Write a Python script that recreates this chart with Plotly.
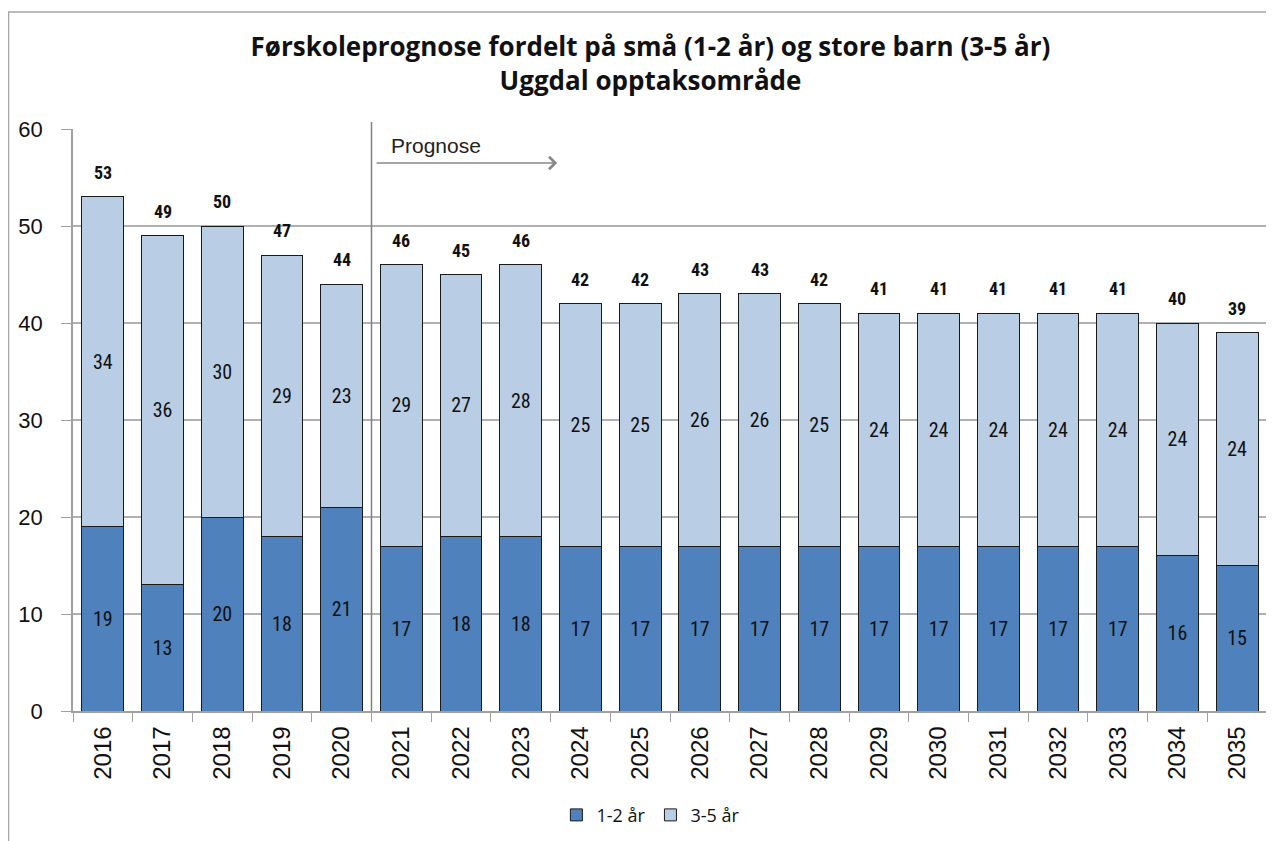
import plotly.graph_objects as go

years = [str(y) for y in range(2016, 2036)]
small = [19, 13, 20, 18, 21, 17, 18, 18, 17, 17, 17, 17, 17, 17, 17, 17, 17, 17, 16, 15]
large = [34, 36, 30, 29, 23, 29, 27, 28, 25, 25, 26, 26, 25, 24, 24, 24, 24, 24, 24, 24]
totals = [a + b for a, b in zip(small, large)]

narrow = "Liberation Sans Narrow, Arial Narrow, Roboto Condensed, DejaVu Sans Condensed, sans-serif"
arial = "Liberation Sans, Arial, sans-serif"

fig = go.Figure()
fig.add_trace(go.Bar(
    x=years, y=small, name="1-2 år",
    marker=dict(color="#4F81BD", line=dict(color="#1a1a1a", width=1)),
    text=small, textposition="inside", insidetextanchor="middle",
    textfont=dict(family=narrow, size=20, color="#111111"),
    textangle=0,
))
fig.add_trace(go.Bar(
    x=years, y=large, name="3-5 år",
    marker=dict(color="#B9CDE5", line=dict(color="#1a1a1a", width=1)),
    text=large, textposition="inside", insidetextanchor="middle",
    textfont=dict(family=narrow, size=20, color="#111111"),
    textangle=0,
))

for i, t in enumerate(totals):
    fig.add_annotation(x=i, y=t, xref="x", yref="y", text=f"<b>{t}</b>", showarrow=False,
                       yanchor="bottom", yshift=12,
                       font=dict(family=narrow, size=18, color="#111111"))

# Prognose divider line and arrow
fig.add_shape(type="line", xref="x", yref="paper", x0=4.5, x1=4.5, y0=0, y1=1.012,
              line=dict(color="#808080", width=1.5))
fig.add_annotation(x=7.61, y=56.5, ax=4.56, ay=56.5, xref="x", yref="y",
                   axref="x", ayref="y", showarrow=True, arrowhead=4,
                   arrowsize=1.6, arrowwidth=1.5, arrowcolor="#888888", text="")
fig.add_annotation(x=4.79, y=58.35, xref="x", yref="y", text="Prognose",
                   showarrow=False, xanchor="left", yanchor="middle",
                   font=dict(family=arial, size=21, color="#222222"))

# chart border
fig.add_shape(type="rect", xref="paper", yref="paper", x0=-0.054, x1=1.02,
              y0=-0.3, y1=1.201, line=dict(color="#A6A6A6", width=1.5),
              fillcolor="rgba(0,0,0,0)", layer="below")

fig.update_layout(
    barmode="stack", bargap=0.3,
    width=1266, height=833,
    paper_bgcolor="white", plot_bgcolor="white",
    margin=dict(l=65, r=7, t=121, b=130),
    title=dict(text="<b>Førskoleprognose fordelt på små (1-2 år) og store barn (3-5 år)<br>Uggdal opptaksområde</b>",
               x=0.5075, xanchor="center", y=0.9424, yanchor="middle",
               font=dict(family="Open Sans, sans-serif", size=26, color="#111111")),
    legend=dict(orientation="h", x=0.484, xanchor="center", y=-0.179, yanchor="middle",
                font=dict(family="Open Sans, sans-serif", size=18, color="#111111"),
                traceorder="normal"),
    uniformtext=dict(minsize=10, mode="show"),
)
fig.update_xaxes(type="category", range=[-0.5, len(years) - 0.5], autorange=False,
                 tickangle=-90, tickson="boundaries",
                 ticks="outside", ticklen=9, tickcolor="#A0A0A0",
                 showline=True, linecolor="#A0A0A0", linewidth=1.5,
                 ticklabelstandoff=4,
                 tickfont=dict(family=arial, size=24, color="#111111"))
fig.update_yaxes(range=[0, 60], autorange=False, dtick=10, ticks="outside", ticklen=10,
                 tickcolor="#A0A0A0", showline=True, linecolor="#A0A0A0",
                 linewidth=1.5, showgrid=True, gridcolor="#B0B0B0", gridwidth=1.5,
                 zeroline=False, ticklabelstandoff=14,
                 tickfont=dict(family=arial, size=22, color="#111111"))

fig.write_html("out.html")
